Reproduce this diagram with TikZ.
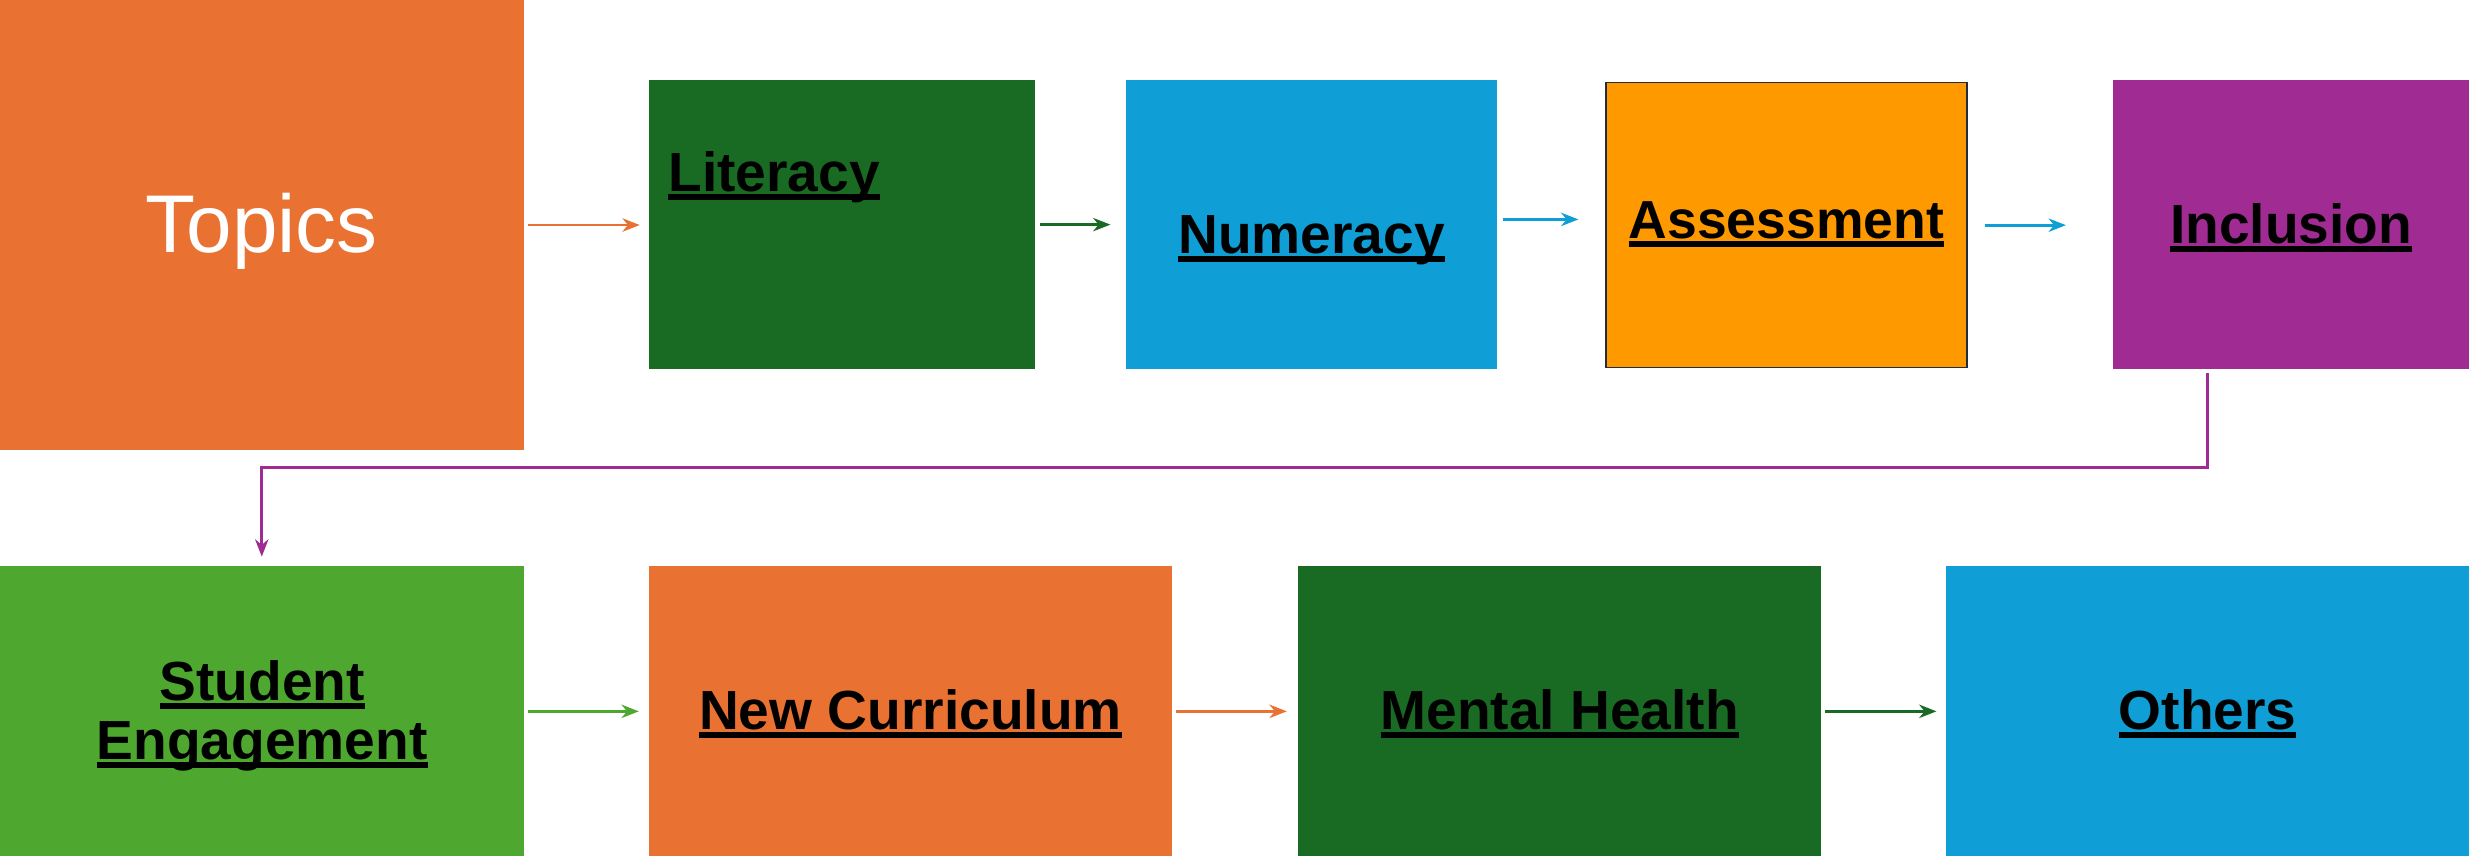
\documentclass[tikz,border=0pt]{standalone}
\usepackage{fontspec}
\setmainfont{Liberation Sans}
\usetikzlibrary{arrows.meta,calc}
\definecolor{cOrange}{HTML}{E97132}
\definecolor{cDkGreen}{HTML}{196B24}
\definecolor{cBlue}{HTML}{0F9ED5}
\definecolor{cPurple}{HTML}{A02B93}
\definecolor{cLtGreen}{HTML}{4EA72E}
\definecolor{cAmber}{HTML}{FF9900}
\definecolor{cNavy}{HTML}{1F2D3D}
\newsavebox{\ulbox}
\newcommand\ulx[1]{\sbox\ulbox{#1}\makebox[0pt][l]{\raisebox{-5.6pt}{\rule{\wd\ulbox}{4pt}}}\usebox\ulbox}
\tikzset{
  box/.style={rectangle, inner sep=0pt, outer sep=0pt, draw=none, anchor=north west},
  lbl/.style={inner sep=0pt, outer sep=0pt, anchor=base, text=black, font=\fontsize{35}{38}\selectfont\bfseries},
  arr/.style={line width=1.7pt, -{Stealth[length=11pt,width=8.5pt,inset=3.5pt]}}
}
\begin{document}
\begin{tikzpicture}[x=1pt,y=1pt]
\useasboundingbox (0,0) rectangle (1568,-543.6);
% boxes
\node[box, fill=cOrange, minimum width=332.5pt, minimum height=285.8pt] (topics) at (0,0) {};
\node[box, fill=cDkGreen, minimum width=245.3pt, minimum height=183.7pt] (lit) at (412,-50.8) {};
\node[box, fill=cBlue, minimum width=235.9pt, minimum height=183.7pt] (num) at (715.1,-50.8) {};
\node[box, fill=cAmber, draw=cNavy, line width=1pt, minimum width=229.2pt, minimum height=181pt] (ass) at (1019.9,-52.5) {};
\node[box, fill=cPurple, minimum width=225.8pt, minimum height=183.7pt] (incl) at (1342.2,-50.8) {};
\node[box, fill=cLtGreen, minimum width=332.5pt, minimum height=184.5pt] (se) at (0,-359.5) {};
\node[box, fill=cOrange, minimum width=331.9pt, minimum height=184.5pt] (nc) at (412.2,-359.5) {};
\node[box, fill=cDkGreen, minimum width=332.1pt, minimum height=184.5pt] (mh) at (824.5,-359.5) {};
\node[box, fill=cBlue, minimum width=332.1pt, minimum height=184.5pt] (oth) at (1235.9,-359.5) {};
% texts
\node[inner sep=0pt, anchor=base, text=white, font=\fontsize{52}{56}\selectfont] (topicsT) at (166.25,-160.3) {Topics};
\node[lbl, anchor=base west] (litT) at (424.5,-121.3) {\ulx{Literacy}};
\node[lbl] (numT) at (833,-160.9) {\ulx{Numeracy}};
\node[lbl, font=\fontsize{34}{38}\selectfont\bfseries] (assT) at (1134.5,-151.4) {\ulx{Assessment}};
\node[lbl] (inclT) at (1455.1,-154.5) {\ulx{Inclusion}};
\node[lbl] (seA) at (166.5,-444.6) {\ulx{Student}};
\node[lbl] (seB) at (166.5,-482.2) {\ulx{Engagement}};
\node[lbl] (ncT) at (578.2,-463.2) {\ulx{New Curriculum}};
\node[lbl] (mhT) at (990.5,-463.2) {\ulx{Mental Health}};
\node[lbl] (othT) at (1402,-463.2) {\ulx{Others}};
% arrows
\draw[arr, cOrange, shorten <=3pt, shorten >=5.7pt] (topics.east) -- (topics.east -| lit.west);
\draw[arr, cDkGreen, shorten <=3.3pt, shorten >=9.9pt] (lit.east) -- (lit.east -| num.west);
\draw[arr, cBlue, shorten <=3.3pt, shorten >=17.5pt] ([yshift=3.3pt]num.east) -- ([yshift=3.3pt]num.east -| ass.west);
\draw[arr, cBlue, shorten <=11.2pt, shorten >=30.2pt] (ass.east) -- (ass.east -| incl.west);
\draw[arr, cPurple, shorten <=2.5pt, shorten >=6pt] ([xshift=59.6pt]incl.south west) -- ++(0,-62.5) -| (se.north);
\draw[arr, cLtGreen, shorten <=2.8pt, shorten >=6.5pt] (se.east) -- (se.east -| nc.west);
\draw[arr, cOrange, shorten <=2.7pt, shorten >=7.3pt] (nc.east) -- (nc.east -| mh.west);
\draw[arr, cDkGreen, shorten <=2.2pt, shorten >=6.1pt] (mh.east) -- (mh.east -| oth.west);
\end{tikzpicture}
\end{document}
